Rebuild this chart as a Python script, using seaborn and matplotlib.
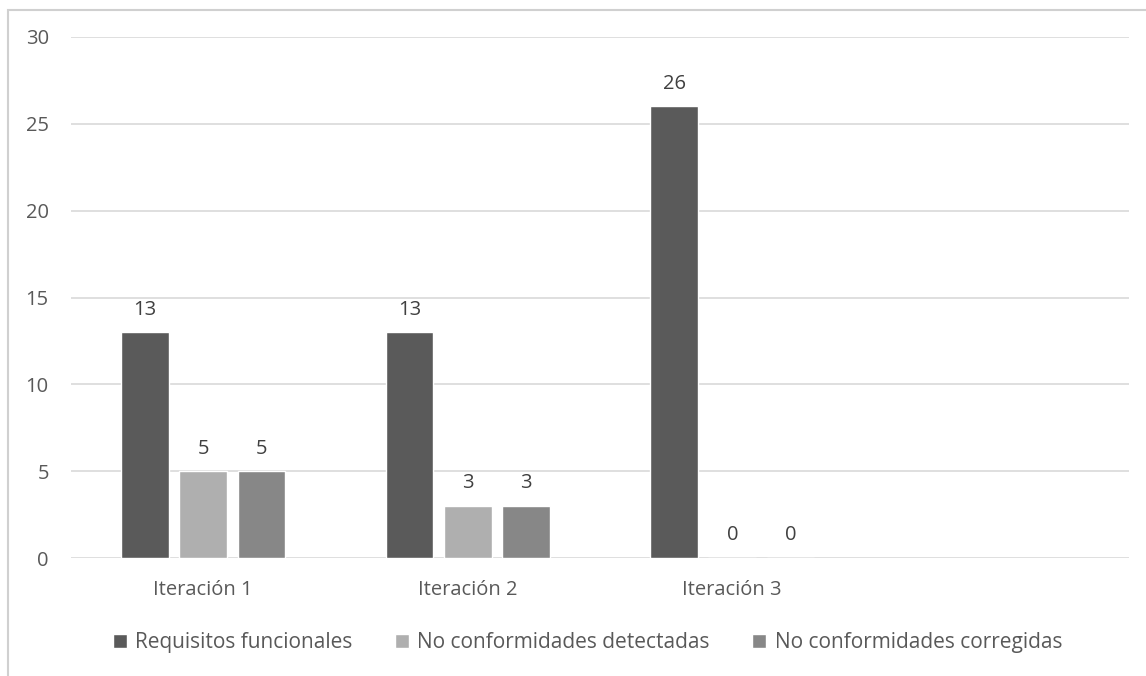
import pandas as pd
import matplotlib
matplotlib.use("Agg")
import matplotlib.pyplot as plt
import matplotlib.patches as mpatches
import seaborn as sns

# ------------------------------
# Data
# ------------------------------
iteraciones = ["Iteración 1", "Iteración 2", "Iteración 3"]
series = ["Requisitos funcionales", "No conformidades detectadas", "No conformidades corregidas"]
requisitos = [13, 13, 26]
detectadas = [5, 3, 0]
corregidas = [5, 3, 0]
colores = ["#5a5a5a", "#afafaf", "#878787"]

df = pd.DataFrame({
    "iteracion": iteraciones * 3,
    "serie": [s for s in series for _ in iteraciones],
    "valor": requisitos + detectadas + corregidas,
})

# ------------------------------
# Plot
# ------------------------------
sns.set_theme(style="white")
plt.rcParams["font.family"] = ["Open Sans", "DejaVu Sans"]
txt = "#595959"
fs = 14.5

fig = plt.figure(figsize=(11.46, 6.76), dpi=100)
ax = fig.add_axes([71 / 1146, 1 - 558 / 676, (1129 - 71) / 1146, (558 - 37) / 676])

sns.barplot(data=df, x="iteracion", y="valor", hue="serie", order=iteraciones,
            hue_order=series, palette=colores, width=0.66, gap=0.18,
            saturation=1, ax=ax, legend=True)

for cont in ax.containers:
    ax.bar_label(cont, padding=9, fontsize=fs, color="#404040")

ax.set_xlim(-0.5, 3.5)
ax.set_ylim(0, 30)
ax.set_yticks(range(0, 31, 5))
ax.yaxis.grid(True, color="#d9d9d9", linewidth=1.2)
ax.set_axisbelow(True)
for s in ax.spines.values():
    s.set_visible(False)
ax.tick_params(axis="y", length=0, pad=16, labelsize=fs, labelcolor=txt)
ax.tick_params(axis="x", length=0, pad=16, labelsize=fs, labelcolor=txt)
ax.set_xlabel("")
ax.set_ylabel("")

ax.legend(loc="center", bbox_to_anchor=(0.488, -0.163), ncol=3, frameon=False,
          fontsize=15, labelcolor=txt, handlelength=0.7, handleheight=0.7,
          handletextpad=0.4, columnspacing=2.0)

# chart border (Excel-like frame)
fig.patches.append(mpatches.Rectangle((8 / 1146, -0.1), 1.2, 1 - 10 / 676 + 0.1,
                                      transform=fig.transFigure, fill=False,
                                      edgecolor="#d0d0d0", linewidth=1.5))

fig.savefig("out.png", dpi=100)
